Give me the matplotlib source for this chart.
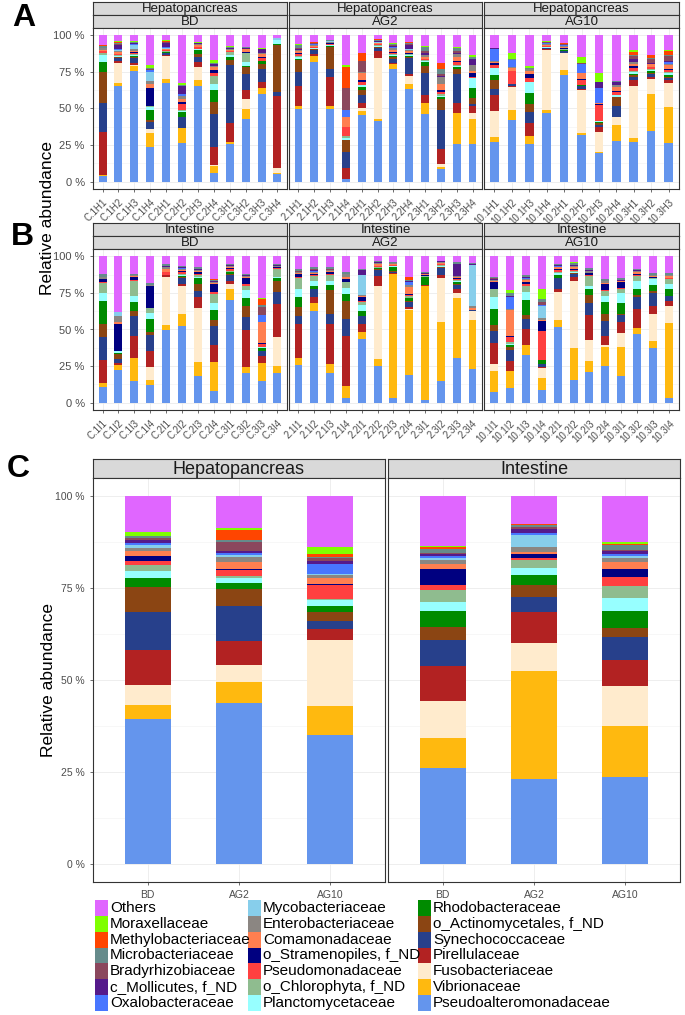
import numpy as np
import matplotlib
matplotlib.use('Agg')
import matplotlib.pyplot as plt
from matplotlib.patches import Rectangle

plt.rcParams['font.family'] = ['Liberation Sans', 'DejaVu Sans']

# stacking order, bottom -> top
families = ['Pseudoalteromonadaceae', 'Vibrionaceae', 'Fusobacteriaceae', 'Pirellulaceae',
            'Synechococcaceae', 'o_Actinomycetales, f_ND', 'Rhodobacteraceae', 'Planctomycetaceae',
            'o_Chlorophyta, f_ND', 'Pseudomonadaceae', 'o_Stramenopiles, f_ND', 'Comamonadaceae',
            'Enterobacteriaceae', 'Mycobacteriaceae', 'Oxalobacteraceae', 'c_Mollicutes, f_ND',
            'Bradyrhizobiaceae', 'Microbacteriaceae', 'Methylobacteriaceae', 'Moraxellaceae', 'Others']
colours = ['#6495ED', '#FFB90F', '#FFEBCD', '#B22222', '#27408B', '#8B4513', '#008B00', '#97FFFF',
           '#8FBC8F', '#FF4040', '#000080', '#FF7F50', '#8B8682', '#87CEEB', '#4876FF', '#551A8B',
           '#8B475D', '#668B8B', '#FF4500', '#7FFF00', '#E066FF']

# ---- panel A: hepatopancreas samples (% per family, bottom -> top order) ----
hep_bd_names = ['C.1H1', 'C.1H2', 'C.1H3', 'C.1H4', 'C.2H1', 'C.2H2', 'C.2H3', 'C.2H4',
                'C.3H1', 'C.3H2', 'C.3H3', 'C.3H4']
hep_bd = [
    [4, 0.5, 0, 30, 20, 21, 7, 5, 1.5, 1, 0, 1, 1, 0.5, 0, 0, 0, 1, 0.5, 0.5, 6.5],
    [65, 2, 14, 1, 2, 0.5, 0.5, 0.5, 0.5, 0.5, 0.5, 1, 1, 0.5, 0.5, 3, 0.5, 1, 0.5, 0.5, 4],
    [76, 4, 0.5, 1, 4, 0.5, 0.5, 1, 0.5, 1, 0.3, 1, 1, 3, 0.5, 0.5, 0.3, 0.5, 0.3, 0.5, 4],
    [24, 9, 3, 0, 4.5, 1.5, 7, 2, 1, 0, 12, 3, 2, 6, 1.5, 0, 0.5, 1, 0, 2, 20],
    [68, 3, 16, 0.5, 1, 0.5, 0.3, 0.5, 0.3, 0.5, 0.3, 0.5, 0.5, 0.5, 0.3, 3, 0.5, 0.5, 0.3, 0.5, 3.5],
    [26, 10, 0, 0, 8, 0, 3, 0.5, 1, 4, 1.5, 2, 2, 0, 1, 6, 0, 0.5, 0, 1.5, 32],
    [65, 4, 9, 3.5, 3.5, 2, 2.5, 1, 0, 1, 0.3, 1, 1, 0, 0, 0.3, 0, 0.5, 0, 0.5, 4.5],
    [6, 4.5, 1, 12, 23, 8, 8, 4, 6, 2, 2, 2, 0.5, 0, 0, 1.5, 0, 0.5, 0, 2, 17],
    [26, 1, 0.5, 12.5, 40, 3.5, 2, 1.5, 2, 0.5, 0, 1, 0.5, 0, 0, 0.5, 0, 1, 0, 1, 7],
    [44, 7, 7, 6, 11, 5, 0.5, 3, 6, 0.5, 0.3, 2, 0.5, 0, 0, 0.5, 0, 0.5, 0, 0.3, 8],
    [60, 4.5, 0, 4, 9, 3.5, 2, 0, 0, 2, 0.5, 2.5, 0.5, 0, 0, 2.5, 0, 0, 0, 1, 8.5],
    [5, 1, 3, 49, 3, 32, 0.5, 3, 0, 0, 0, 0, 0, 1, 0, 0, 0, 0, 0, 0, 2],
]
hep_ag2_names = ['2.1H1', '2.1H2', '2.1H3', '2.1H4', '2.2H1', '2.2H2', '2.2H3', '2.2H4',
                 '2.3H1', '2.3H2', '2.3H3', '2.3H4']
hep_ag2 = [
    [50, 2, 0, 13.5, 10, 8, 1, 1, 1, 1, 1, 1, 1, 0, 0, 0.5, 1, 2, 0, 0.5, 6],
    [83, 4, 0, 1.5, 3, 0.5, 0.3, 0.3, 0.3, 0.5, 0.5, 0.5, 0.5, 0.3, 0.3, 0.5, 0.3, 0.3, 0.3, 0.3, 4.5],
    [50, 2, 0, 20, 5, 15, 1, 0.5, 0.5, 0.5, 0.3, 0.5, 0.5, 0.3, 0, 0.3, 0.3, 0.3, 0, 0.3, 3],
    [1.5, 0.5, 0, 7, 11, 8, 0, 1.5, 1.5, 6, 0, 7, 0, 0, 4.5, 0, 15, 0, 14, 1.5, 20],
    [46, 3, 2, 3, 6, 3, 2, 2, 0, 2, 1, 5, 0.5, 0, 0, 0.5, 7, 0.5, 5, 0, 12.5],
    [41.5, 1.5, 42.5, 4.5, 2, 0.5, 0.5, 0.5, 0.5, 0.5, 0.3, 0.5, 0.5, 0.3, 0.3, 0.5, 0.3, 0.5, 0.3, 0.3, 2.5],
    [78, 3, 0, 1, 2.5, 1.5, 0.5, 1, 0.5, 1, 0.5, 1.5, 1, 0.5, 0.3, 1, 0.5, 0.5, 0.3, 0.5, 5.5],
    [64, 3, 5.5, 1.5, 11, 1, 0.5, 0.5, 0.5, 0.5, 0.5, 1, 1, 0.5, 0.5, 2.5, 0.5, 1, 0.3, 0.3, 4.5],
    [46, 8, 0, 5, 15, 5, 3, 0.5, 0.5, 0.5, 0.5, 1, 1.5, 0, 0, 1.5, 1, 3, 0, 0.5, 7.5],
    [8.5, 1.5, 2.5, 10, 27, 7.5, 1.5, 1, 1, 2, 1, 4, 5, 0, 0, 0.5, 2, 3, 4.5, 0, 19],
    [26, 21.5, 0, 7, 20, 3.5, 1, 1, 0.5, 2, 0.5, 3, 2, 0, 0, 1, 1.5, 1.5, 0.5, 0.5, 8],
    [26, 17, 4, 5, 1, 4.5, 6.5, 6.5, 0, 1, 3, 1, 4.5, 0, 0, 3.5, 0, 1.5, 0, 1.5, 13.5],
]
hep_ag10_names = ['10.1H1', '10.1H2', '10.1H3', '10.1H4', '10.2H1', '10.2H2', '10.2H3',
                  '10.2H4', '10.3H1', '10.3H2', '10.3H3']
hep_ag10 = [
    [27, 3.5, 18, 11, 4, 6, 3.5, 4.5, 0.5, 2, 1, 1, 0.5, 0, 8, 0.5, 0, 0.5, 0, 0, 8.5],
    [42, 7, 15.5, 0.5, 1.5, 0, 0, 0, 0, 8.5, 0.5, 1.5, 1, 0, 4.5, 0, 0, 1, 0, 4, 12],
    [25, 5, 0, 9, 7, 5, 7.5, 7, 0, 3, 2.5, 2, 1, 0, 0, 0.5, 0, 0.5, 0, 1, 20.5],
    [48, 2, 41.5, 0.5, 0.5, 0.3, 0.3, 0.3, 0.3, 0.5, 0.3, 0.5, 0.5, 0.3, 0.3, 0.3, 0.3, 0.3, 0.3, 0.3, 4],
    [72.5, 3.5, 11.5, 0.5, 1, 0.5, 0.3, 0.3, 0.3, 0.5, 0.5, 0.5, 0.5, 0.3, 0.3, 0.5, 0.3, 0.5, 0.3, 0.3, 5],
    [32, 2, 29.5, 0.5, 2, 0.5, 0.3, 0.3, 0, 3.5, 0.3, 4, 0.5, 0, 6, 0.3, 0.3, 0.3, 0, 4, 15],
    [19, 1, 13.5, 3, 1.5, 1, 1, 0.5, 0, 11, 0.5, 1, 0, 0, 9.5, 4, 0, 0, 0, 6, 25.5],
    [28.5, 11, 5.5, 0, 8, 6, 0.5, 1, 0.5, 2, 0.5, 3, 1, 0, 0, 2, 0.5, 0.5, 0, 0, 32],
    [26.5, 2.5, 35, 3.5, 2, 1.5, 1, 1, 1, 2, 1, 1.5, 1, 0, 0, 2, 2.5, 0.5, 2, 1, 10],
    [36, 26, 10, 2, 1.5, 1, 1.5, 0.5, 0.5, 1.5, 0.5, 1.5, 0.5, 0, 0, 0.5, 3, 0.5, 2, 0.5, 13.5],
    [27, 25, 17, 2, 1.5, 1, 1.5, 1, 0.5, 2, 0.5, 2.5, 1, 0, 1, 1, 3.5, 0.5, 3, 1, 10],
]

# ---- panel B: intestine samples ----
int_bd_names = ['C.1I1', 'C.1I2', 'C.1I3', 'C.1I4', 'C.2I1', 'C.2I2', 'C.2I3', 'C.2I4',
                'C.3I1', 'C.3I2', 'C.3I3', 'C.3I4']
int_bd = [
    [10.5, 3, 0, 15.5, 16, 9, 15.5, 6, 6.5, 0.5, 2, 0.5, 1, 0, 0, 0.3, 0, 2, 0, 0, 12],
    [22, 4, 0, 1, 3, 3, 1, 1, 0, 0.5, 18, 1.5, 4, 3, 0, 0, 0, 0, 0, 0, 38],
    [15, 15.5, 0, 14.5, 14, 3.5, 6, 4, 10.5, 0.5, 2, 0.5, 0.5, 0, 0, 0, 0, 1, 0, 0, 12],
    [12, 3.5, 9, 10.5, 11.5, 1.5, 9, 4.5, 3, 0.5, 14.5, 0.5, 0.5, 0, 0, 0, 0, 1, 0, 0, 18.5],
    [50, 3.5, 33, 1, 0, 0, 0, 0, 0, 2, 0.5, 2, 1, 0, 0, 1, 0, 1, 0.5, 0, 5],
    [52, 8, 19.5, 1, 4.5, 0.5, 0.5, 0.5, 1, 1.5, 0.5, 1, 0.5, 0, 0.5, 1, 0, 0.5, 0, 0, 6.5],
    [18, 9.5, 37.5, 7.5, 4, 4.5, 4, 1, 1, 1, 1, 1, 0.5, 0, 0.3, 0.7, 0, 1, 0, 0, 7.5],
    [8, 19.5, 0, 11.5, 13, 4, 7, 5, 6, 1, 5.5, 1, 0.5, 0, 0, 0.5, 0, 1, 0.5, 0, 15.5],
    [70, 7.5, 3.5, 2, 4.5, 0.5, 1, 0.5, 0.5, 1, 1, 1, 0.5, 0, 0, 0.5, 0, 1, 0, 0, 5],
    [20, 4.5, 0, 25, 8.5, 7.5, 6, 5, 3, 1, 4, 1, 0.5, 0, 0, 0.5, 0, 1, 0, 0, 12],
    [14.5, 12.5, 0, 4.5, 3.5, 0, 2, 0.5, 0, 2, 1, 13.5, 0, 0, 5, 0, 5.5, 1.5, 3.5, 1, 28],
    [20, 4.5, 20, 22.5, 8, 7, 2, 1, 5.5, 0.5, 0.5, 0.5, 0.5, 0, 0, 0.5, 0, 1, 0, 0, 5],
]
int_ag2_names = ['2.1I1', '2.1I2', '2.1I3', '2.1I4', '2.2I1', '2.2I2', '2.2I3', '2.2I4',
                 '2.3I1', '2.3I2', '2.3I3', '2.3I4']
int_ag2 = [
    [26, 4.5, 0, 23, 6, 6, 7, 5.5, 7.5, 0.5, 2, 0.5, 0.5, 0, 0, 0.5, 0.5, 1, 0, 0, 9],
    [62.5, 5, 0, 4.5, 5, 0.5, 2, 3.5, 3, 0.5, 1, 0.5, 1, 0, 0.5, 1, 0.5, 1, 0, 0, 7.5],
    [20, 6, 0, 27.5, 7, 16, 3.5, 2.5, 4.5, 0.5, 1.5, 0.5, 0.5, 0, 0, 0.5, 0.5, 1, 0, 0, 7.5],
    [3, 8.5, 0, 34, 11.5, 12.5, 5, 4, 4, 0, 2, 1.5, 2, 0, 0, 0, 0, 1.5, 0, 0, 10.5],
    [43.5, 5, 0, 5.5, 5.5, 0, 3, 4.5, 2, 0.5, 3, 0.5, 0.5, 14, 0, 3, 0, 0.5, 0, 0, 9],
    [25, 5, 50, 7, 4, 0.5, 0.5, 0.5, 0.5, 0.5, 0.5, 1, 1, 0, 0, 0.5, 0, 0.5, 0.3, 0, 3],
    [3, 84, 0.5, 0.5, 0.5, 0.5, 3, 0.3, 0.5, 0.3, 0.3, 0.5, 0.5, 0, 0, 0.3, 0, 0.5, 0, 0, 4],
    [19, 43.5, 1, 1, 3.5, 0.5, 2, 0.5, 1, 1, 0.5, 5, 1, 0, 2, 0.5, 0, 1, 2, 0, 14],
    [2, 77.5, 0, 1, 0, 0, 5, 0.3, 0.3, 0.5, 0.3, 0.5, 0.5, 0, 0, 0.3, 0, 0.5, 0, 0, 11],
    [14.5, 40.5, 30.5, 1.5, 5, 0.5, 0.5, 0.5, 0.5, 0.5, 0.5, 0.5, 0.5, 0, 0, 0.5, 0, 0.5, 0, 0, 3],
    [30, 41, 3, 3, 2.5, 0.5, 1.5, 0.5, 1, 0.5, 1, 0.5, 1, 0, 0, 8, 0, 1, 0, 0, 4],
    [23, 33.5, 6, 0, 1, 0, 0, 0, 0, 0, 0, 1, 1.5, 28, 0, 0.5, 0, 1, 0, 0, 4.5],
]
int_ag10_names = ['10.1I1', '10.1I2', '10.1I3', '10.1I4', '10.2I1', '10.2I2', '10.2I3',
                  '10.2I4', '10.3I1', '10.3I2', '10.3I3', '10.3I4']
int_ag10 = [
    [7.5, 14, 5, 14, 8.5, 4, 11, 8.5, 5, 0.5, 4.5, 0.5, 1, 0, 0, 0.5, 0.5, 1, 0, 0, 14],
    [10, 12, 0, 6.5, 7.5, 2.5, 1, 1, 1, 3.5, 0.5, 18, 1, 0, 8, 0.5, 0.5, 1.5, 0.5, 2, 23],
    [33, 7, 0, 11, 7, 3, 10, 6, 4, 1, 1.5, 1.5, 1, 0, 0.5, 0.5, 0.5, 1, 0, 0, 13],
    [9, 8, 7, 1, 2, 0, 2.5, 0, 0, 20, 7, 0.5, 2, 8, 0.5, 0.5, 2, 2, 0, 6.5, 23],
    [52, 4.5, 19, 2, 7.5, 0.5, 2, 1, 1, 1, 1, 1, 0.5, 0, 0.5, 0.5, 0, 1, 0, 0, 5],
    [15.5, 22, 46, 2.5, 2, 0.5, 0.5, 0.5, 0.5, 1, 0.5, 1, 1, 0, 0, 1, 0, 1, 0.3, 0.3, 4],
    [21, 7.5, 14, 16.5, 8.5, 5, 4.5, 2, 7, 0.5, 1, 0.5, 1, 0, 0, 1, 0, 1, 0, 0, 8],
    [25, 13, 1.5, 6, 10, 4.5, 8.5, 4, 3.5, 0.5, 4, 1, 1, 0, 0, 0.5, 0, 1, 0, 0, 15.5],
    [18, 20, 9.5, 7.5, 4.5, 1, 7, 7, 3, 0.5, 4, 0.5, 0.5, 0, 0, 0.5, 0, 1, 0, 0, 15],
    [47, 3.5, 0, 13, 8.5, 1, 4, 5.5, 3.5, 0.5, 1, 1, 1, 0, 0, 0.5, 0, 1, 0, 0, 8.5],
    [37.5, 4.5, 18, 6, 8.5, 1.5, 4, 4, 0.5, 0.5, 0.5, 0.5, 0.5, 0, 0, 0.5, 0, 1, 0, 0, 11.5],
    [3.5, 51, 11.5, 3.5, 3.5, 0, 5, 3, 3.5, 0.5, 0.5, 1, 0.5, 0, 0, 0.5, 0, 1, 0, 0, 11.5],
]

# ---- panel C: group means ----
groups = ['BD', 'AG2', 'AG10']
hep_mean = [
    [39.5, 4, 5.2, 9.7, 10.4, 6.8, 2.4, 2, 1.6, 1.1, 1.4, 1.4, 0.7, 0.9, 0.6, 0.9, 0.5, 0.4, 0.2, 0.9, 9.8],
    [43.5, 5.7, 4.8, 6.5, 9.3, 4.8, 1.5, 1.4, 0.6, 1.4, 0.5, 1.7, 1.4, 0.6, 0.5, 0.7, 2.4, 0.6, 2.5, 0.6, 8.6],
    [35, 7.9, 18.2, 2.8, 2.4, 2.3, 1.8, 1.4, 0.4, 3.7, 0.3, 1.8, 0.7, 0.4, 2.7, 0.7, 0.9, 0.2, 0.9, 1.8, 13.9],
]
int_mean = [
    [26, 8.2, 10.3, 9.3, 7.2, 3.6, 4.3, 2.5, 3.2, 1.3, 4.5, 1.4, 1, 0.5, 0.6, 0.6, 0.3, 1.1, 0.5, 0.2, 13.6],
    [23, 29.3, 7.6, 8.6, 4.1, 3.3, 2.7, 1.9, 2, 0.6, 1, 0.6, 1.4, 3.4, 0.4, 1.2, 0.4, 0.5, 0.3, 0.2, 7.4],
    [23.5, 13.9, 10.9, 7.3, 6.1, 2.4, 4.8, 3.6, 3.2, 2.3, 2.3, 2, 1, 0.5, 0.5, 0.8, 0.5, 1.2, 0.3, 0.6, 12.4],
]

W, H = 685, 1015
fig = plt.figure(figsize=(W / 100, H / 100), dpi=100)


def box(x0, y0, x1, y1):
    # pixel box measured from the top-left corner -> figure fraction
    return [x0 / W, 1 - y1 / H, (x1 - x0) / W, (y1 - y0) / H]


def strip(x0, y0, x1, y1, text, size):
    ax = fig.add_axes(box(x0, y0, x1, y1))
    ax.set_facecolor('#D9D9D9')
    ax.set_xticks([])
    ax.set_yticks([])
    for s in ax.spines.values():
        s.set_color('#333333')
        s.set_linewidth(0.8)
    ax.text(0.5, 0.45, text, ha='center', va='center', fontsize=size, color='#1A1A1A',
            transform=ax.transAxes)


def stacked(rect, names, table, ylabels, xsize, ysize, rot):
    ax = fig.add_axes(rect)
    vals = np.array(table, dtype=float)
    vals = vals / vals.sum(axis=1, keepdims=True) * 100
    x = np.arange(len(names))
    bottom = np.zeros(len(names))
    for j in range(len(families)):
        ax.bar(x, vals[:, j], 0.5, bottom=bottom, color=colours[j], linewidth=0, zorder=2)
        bottom += vals[:, j]
    ax.set_xlim(-0.6, len(names) - 0.4)
    ax.set_ylim(-5, 105)
    ax.set_yticks([0, 25, 50, 75, 100])
    ax.set_yticks([12.5, 37.5, 62.5, 87.5], minor=True)
    ax.set_xticks(x)
    ax.grid(which='major', color='#EBEBEB', linewidth=0.6, zorder=0)
    ax.grid(which='minor', axis='y', color='#F2F2F2', linewidth=0.4, zorder=0)
    ax.set_axisbelow(True)
    for s in ax.spines.values():
        s.set_color('#333333')
        s.set_linewidth(0.8)
    ax.tick_params(which='major', length=2.5, width=0.5, color='#333333', labelcolor='#4D4D4D')
    ax.tick_params(which='minor', length=0)
    if ylabels:
        ax.set_yticklabels(['0 %', '25 %', '50 %', '75 %', '100 %'], fontsize=ysize)
    else:
        ax.tick_params(axis='y', labelleft=False, length=0)
    if rot:
        ax.set_xticklabels(names, fontsize=xsize, rotation=45, ha='right', rotation_mode='anchor')
    else:
        ax.set_xticklabels(names, fontsize=xsize)
    return ax


# panels A and B
cols_ab = [(93, 287), (289, 482), (484, 679)]
rows = [('Hepatopancreas', [hep_bd, hep_ag2, hep_ag10], [hep_bd_names, hep_ag2_names, hep_ag10_names],
         2, 15, 28, 189),
        ('Intestine', [int_bd, int_ag2, int_ag10], [int_bd_names, int_ag2_names, int_ag10_names],
         223, 236, 249, 410)]
for tissue, tables, names, y0, y1, y2, y3 in rows:
    for k, (x0, x1) in enumerate(cols_ab):
        strip(x0, y0, x1, y1, tissue, 9.5)
        strip(x0, y1, x1, y2, groups[k], 9.5)
        stacked(box(x0, y2, x1, y3), names[k], tables[k], k == 0, 7, 8, True)

# panel C
cols_c = [(93, 385), (388, 680)]
for k, (tissue, table) in enumerate([('Hepatopancreas', hep_mean), ('Intestine', int_mean)]):
    x0, x1 = cols_c[k]
    strip(x0, 459, x1, 478, tissue, 13)
    stacked(box(x0, 478, x1, 882), groups, table, k == 0, 7.5, 7.5, False)

fig.text(24 / W, 1 - 18 / H, 'A', fontsize=23, fontweight='bold', ha='center', va='center')
fig.text(22 / W, 1 - 237 / H, 'B', fontsize=23, fontweight='bold', ha='center', va='center')
fig.text(18 / W, 1 - 469 / H, 'C', fontsize=23, fontweight='bold', ha='center', va='center')
fig.text(48 / W, 1 - 218 / H, 'Relative abundance', rotation=90, fontsize=12.5,
         ha='center', va='center')
fig.text(49 / W, 1 - 680 / H, 'Relative abundance', rotation=90, fontsize=12.5,
         ha='center', va='center')

# legend, 3 columns, reversed stacking order
order = list(range(len(families)))[::-1]
key_x = [95, 248, 418]
row_y0, row_step = 908, 15.8
for n, j in enumerate(order):
    c, r = divmod(n, 7)
    yc = row_y0 + r * row_step
    fig.patches.append(Rectangle(((key_x[c]) / W, 1 - (yc + 7.9) / H), 13 / W, 15.8 / H,
                                 transform=fig.transFigure, facecolor=colours[j],
                                 edgecolor='none'))
    fig.text((key_x[c] + 15) / W, 1 - yc / H, families[j], fontsize=11,
             ha='left', va='center')

fig.savefig('out.png', dpi=100)
